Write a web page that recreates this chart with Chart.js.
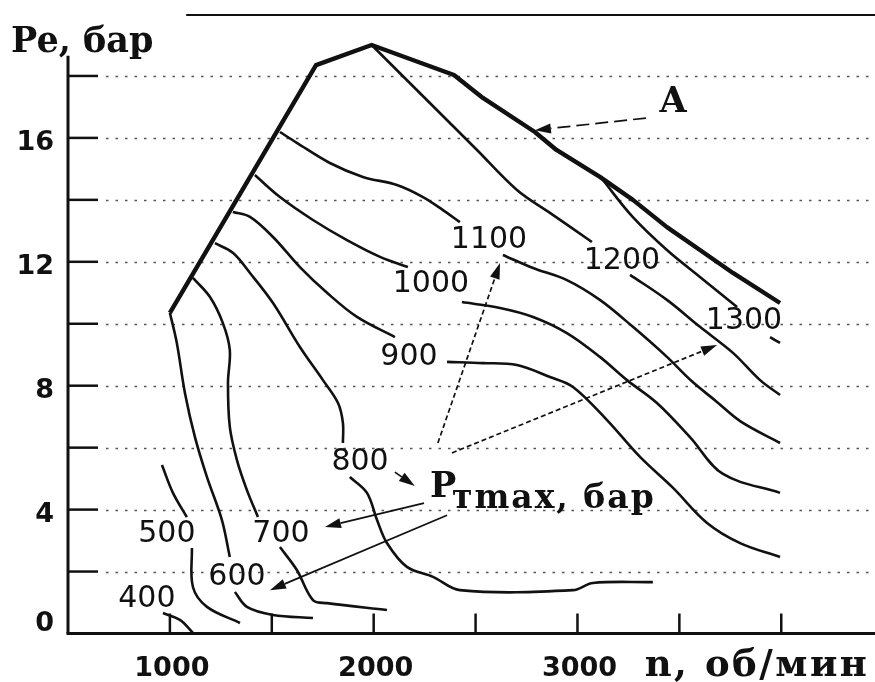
<!DOCTYPE html>
<html>
<head>
<meta charset="utf-8">
<script src="https://cdn.jsdelivr.net/npm/chart.js@4/dist/chart.umd.min.js"></script>
<style>
html,body{margin:0;padding:0;background:#fff;}
#wrap{width:875px;height:682px;position:relative;}
</style>
</head>
<body>
<div id="wrap"><canvas id="c" width="875" height="682"></canvas></div>
<script>
// ---------- axis definitions ----------
const X_MIN = 500, X_MAX = 4460;
const Y_MIN = 0, Y_MAX = 20;
const Y_AXIS_TOP = 18.65;
const yTickLabels = [0, 4, 8, 12, 16];
const yGridValues = [2, 4, 6, 8, 10, 12, 14, 16, 18];
const xTickValues = [1000, 1500, 2000, 2500, 3000, 3500, 4000];
const xTickLabels = [1000, 2000, 3000];

// ---------- data: [n (об/мин), Pe (бар)], null = break at label ----------
const curveA = [[1000,10.35],[1717,18.35],[1990,19.0],[2394,18.03],[2536,17.29],[2791,16.19],[2897,15.61],[3110,14.74],[3272,14.0],[3439,13.12],[3601,12.38],[3763,11.64],[3994,10.67]];
const p1300 = [[3120,14.68],[3272,13.44],[3439,12.38],[3601,11.51],[3783,10.54],null,[3945,9.57],[3994,9.38]];
const p1200 = [[1990,19.0],[2507,15.61],[2703,14.32],[2865,13.58],[3071,12.64],null,[3258,11.58],[3439,10.77],[3601,9.9],[3763,9.06],[3896,8.18],[3994,7.7]];
const p1100 = [[1540,16.19],[1623,15.84],[1785,15.19],[1947,14.74],[2114,14.48],[2242,14.09],[2340,13.67],[2423,13.28],null,[2634,12.22],[2782,11.8],[2948,11.41],[3110,10.77],[3272,9.9],[3439,8.93],[3560,8.15],[3680,7.5],[3800,6.85],[3994,6.15]];
const p1000 = [[1417,14.8],[1540,14.09],[1702,13.35],[1869,12.7],[2031,12.16],[2168,11.83],null,[2433,10.7],[2620,10.51],[2782,10.22],[2948,9.7],[3110,8.93],[3243,8.18],[3390,7.44],[3552,6.34],[3714,5.15],[3994,4.54]];
const p900 = [[1309,13.61],[1393,13.45],[1506,12.8],[1638,11.83],[1771,11.0],[1918,10.22],[2104,9.57],null,[2360,8.77],[2536,8.73],[2703,8.67],[2865,8.28],[2978,7.96],[3145,6.89],[3307,5.7],[3469,4.7],[3636,3.57],[3798,2.92],[3994,2.47]];
const p800 = [[1221,12.6],[1309,12.29],[1393,11.64],[1506,10.67],[1638,9.25],[1751,8.18],[1825,7.44],[1849,6.8],[1849,6.15],null,[1883,5.05],[1967,4.54],[2016,3.67],[2065,2.92],[2163,2.15],[2291,1.83],[2423,1.4],[2978,1.4],[3076,1.63],[3370,1.66]];
const p700 = [[1113,11.48],[1196,10.87],[1260,10.02],[1294,9.15],[1285,8.09],[1294,6.67],[1329,5.6],[1378,4.63],[1432,3.76],null,[1540,2.79],[1623,2.05],[1702,1.08],[1771,0.98],[2065,0.76]];
const p600 = [[1000,10.35],[1034,9.38],[1074,7.76],[1123,6.34],[1182,5.05],[1255,3.67],[1294,2.47],null,[1319,1.34],[1378,0.86],[1506,0.6],[1702,0.5]];
const p500 = [[961,5.44],[1015,4.54],[1083,3.76],null,[1108,2.76],[1113,1.5],[1182,0.86],[1344,0.34]];
const p400 = [[966,0.66],[1049,0.44],[1113,0.02]];

const isoLabelText = ['400','500','600','700','800','900','1000','1100','1200','1300'];

// ---------- annotation placement (data coordinates) ----------
const isoLabelAt = [[887,1.11],[985,3.21],[1329,1.83],[1545,3.21],[1933,5.54],[2173,8.93],[2281,11.28],[2566,12.70],[3218,12.03],[3817,10.09]];
const arrows = [
  {from:[3336,16.64], to:[2791,16.25], dash:[13,6]},
  {from:[2315,6.15], to:[2620,11.96], dash:[5,3]},
  {from:[2384,5.83], to:[3685,9.31], dash:[5,3]},
  {from:[2104,5.21], to:[2202,4.76], dash:[]},
  {from:[2247,4.21], to:[1761,3.44], dash:[]},
  {from:[2360,3.82], to:[1491,1.4], dash:[]}
];

function segments(arr){
  const out=[]; let cur=[];
  arr.forEach(p=>{ if(p===null){ if(cur.length) out.push(cur); cur=[]; } else cur.push({x:p[0],y:p[1]}); });
  if(cur.length) out.push(cur);
  return out;
}
const datasets=[];
[p400,p500,p600,p700,p800,p900,p1000,p1100,p1200,p1300].forEach(c=>{
  segments(c).forEach(seg=>datasets.push({data:seg,showLine:true,borderColor:'#111',borderWidth:2.6,pointRadius:0,tension:0.35,fill:false}));
});
segments(curveA).forEach(seg=>datasets.push({data:seg,showLine:true,borderColor:'#111',borderWidth:4.4,pointRadius:0,tension:0,fill:false,borderJoinStyle:'round'}));

function drawArrow(ctx,x1,y1,x2,y2,dash){
  const ang=Math.atan2(y2-y1,x2-x1), L=16, W=5;
  const bx=x2-L*Math.cos(ang), by=y2-L*Math.sin(ang);
  ctx.save();
  ctx.setLineDash(dash); ctx.lineWidth=1.7; ctx.strokeStyle='#111';
  ctx.beginPath(); ctx.moveTo(x1,y1); ctx.lineTo(bx,by); ctx.stroke();
  ctx.setLineDash([]); ctx.fillStyle='#111';
  ctx.beginPath(); ctx.moveTo(x2,y2);
  ctx.lineTo(bx+W*Math.sin(ang), by-W*Math.cos(ang));
  ctx.lineTo(bx-W*Math.sin(ang), by+W*Math.cos(ang));
  ctx.closePath(); ctx.fill();
  ctx.restore();
}

const overlay = {
  id:'overlay',
  beforeDatasetsDraw(chart){
    const {ctx, chartArea:a, scales:{x,y}} = chart;
    ctx.save();
    ctx.strokeStyle='#555'; ctx.lineWidth=1.6; ctx.setLineDash([2.5,7]);
    yGridValues.forEach(v=>{
      const py=Math.round(y.getPixelForValue(v))+0.5;
      ctx.beginPath(); ctx.moveTo(a.left+38,py); ctx.lineTo(a.right,py); ctx.stroke();
    });
    ctx.restore();
  },
  afterDatasetsDraw(chart){
    const {ctx, chartArea:a, scales:{x,y}} = chart;
    const X=v=>x.getPixelForValue(v), Y=v=>y.getPixelForValue(v);
    ctx.save();
    ctx.strokeStyle='#111'; ctx.setLineDash([]);
    // axes
    ctx.lineWidth=3;
    ctx.beginPath(); ctx.moveTo(a.left, Y(0)); ctx.lineTo(a.left, Y(Y_AXIS_TOP)); ctx.stroke();
    ctx.beginPath(); ctx.moveTo(a.left-1.5, Y(0)); ctx.lineTo(a.right, Y(0)); ctx.stroke();
    // top frame line
    ctx.lineWidth=2;
    ctx.beginPath(); ctx.moveTo(X(1080), Y(Y_MAX)+1); ctx.lineTo(a.right, Y(Y_MAX)+1); ctx.stroke();
    // y ticks
    ctx.lineWidth=2.5;
    yGridValues.forEach(v=>{ ctx.beginPath(); ctx.moveTo(a.left, Y(v)); ctx.lineTo(a.left+30, Y(v)); ctx.stroke(); });
    // x ticks
    xTickValues.forEach(v=>{ ctx.beginPath(); ctx.moveTo(X(v), Y(0)); ctx.lineTo(X(v), Y(0)-20); ctx.stroke(); });

    ctx.fillStyle='#111';
    // y tick labels
    ctx.font='bold 27px "DejaVu Sans"'; ctx.textAlign='right'; ctx.textBaseline='middle';
    yTickLabels.forEach(v=>{ ctx.fillText(String(v), a.left-14, Y(v)+(v===0?-10:5)); });
    // x tick labels
    ctx.textAlign='center'; ctx.textBaseline='alphabetic';
    xTickLabels.forEach(v=>{ ctx.fillText(String(v), X(v)+2, Y(0)+42); });
    // axis titles
    ctx.textAlign='left';
    ctx.font='bold 35px "DejaVu Serif"';
    ctx.fillText('Pe, бар', 11, 52);
    ctx.font='bold 37px "DejaVu Serif"';
    ctx.letterSpacing='2.5px';
    ctx.fillText('n, об/мин', X(3330), Y(0)+42);
    ctx.letterSpacing='0px';

    // isoline labels
    ctx.font='30px "DejaVu Sans"'; ctx.textAlign='center'; ctx.textBaseline='middle';
    isoLabelText.forEach((t,i)=>{ const p=isoLabelAt[i]; ctx.fillText(t, X(p[0]), Y(p[1])); });

    // A label
    ctx.font='bold 35px "DejaVu Serif"'; ctx.textBaseline='middle';
    ctx.fillText('A', X(3469), Y(17.13));
    // Pтmax label
    ctx.textAlign='left'; ctx.textBaseline='alphabetic';
    ctx.font='bold 35px "DejaVu Serif"';
    ctx.fillText('P', X(2276), Y(4.41));
    ctx.font='bold 33px "DejaVu Serif"';
    ctx.letterSpacing='2px';
    ctx.fillText('тmax, бар', X(2384), Y(4.05));
    ctx.letterSpacing='0px';

    // arrows
    arrows.forEach(ar=>drawArrow(ctx, X(ar.from[0]), Y(ar.from[1]), X(ar.to[0]), Y(ar.to[1]), ar.dash));
    ctx.restore();
  }
};

new Chart(document.getElementById('c').getContext('2d'), {
  type:'scatter',
  data:{datasets},
  options:{
    responsive:false, animation:false, devicePixelRatio:1, events:[],
    layout:{padding:{left:68,right:0,top:14,bottom:48.5}},
    plugins:{legend:{display:false}, tooltip:{enabled:false}},
    scales:{
      x:{type:'linear', min:X_MIN, max:X_MAX, display:false},
      y:{type:'linear', min:Y_MIN, max:Y_MAX, display:false}
    }
  },
  plugins:[overlay]
});
</script>
</body>
</html>
